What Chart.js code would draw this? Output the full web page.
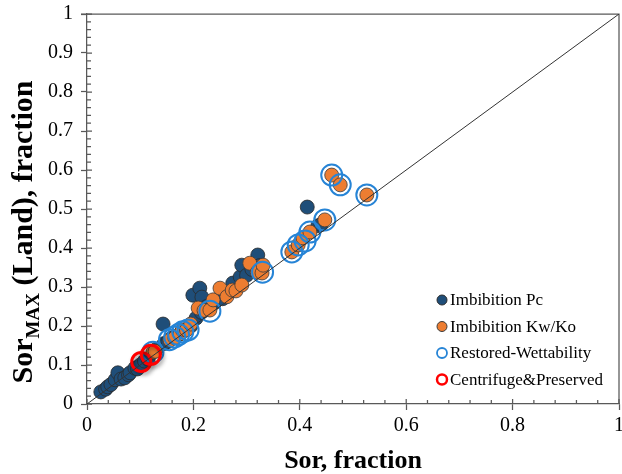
<!DOCTYPE html>
<html>
<head>
<meta charset="utf-8">
<script src="https://cdn.jsdelivr.net/npm/chart.js@4.4.1/dist/chart.umd.min.js"></script>
<style>
  html, body { margin: 0; padding: 0; background: #fff; }
  #wrap { width: 622px; height: 474px; }
</style>
</head>
<body>
<div id="wrap"><canvas id="sor-chart" width="622" height="474"></canvas></div>
<script>
/* Sor vs SorMAX (Land) cross-plot */

const SERIES_LABELS = ["Imbibition Pc", "Imbibition Kw/Ko", "Restored-Wettability", "Centrifuge&Preserved"];

// Imbibition Pc  [Sor, SorMAX]
const IMB_PC = [
    [0.026, 0.031], [0.035, 0.038], [0.039, 0.044], [0.045, 0.050], [0.053, 0.062],
    [0.058, 0.080], [0.064, 0.064], [0.071, 0.067], [0.078, 0.075], [0.081, 0.080],
    [0.090, 0.092], [0.095, 0.090], [0.100, 0.100], [0.108, 0.110], [0.115, 0.115],
    [0.130, 0.140], [0.143, 0.205], [0.145, 0.155], [0.152, 0.160], [0.160, 0.170],
    [0.175, 0.180], [0.185, 0.190], [0.195, 0.200], [0.199, 0.279], [0.212, 0.297],
    [0.216, 0.274], [0.205, 0.220], [0.215, 0.235], [0.225, 0.250], [0.240, 0.260],
    [0.255, 0.270], [0.265, 0.285], [0.274, 0.310], [0.288, 0.326], [0.291, 0.356],
    [0.300, 0.330], [0.310, 0.345], [0.321, 0.382], [0.325, 0.355], [0.414, 0.505],
    [0.434, 0.457], [0.440, 0.460]
];

// Imbibition Kw/Ko
const IMB_KWKO = [
    [0.124, 0.133], [0.128, 0.135], [0.156, 0.164], [0.165, 0.170], [0.175, 0.180],
    [0.179, 0.190], [0.187, 0.190], [0.195, 0.205], [0.209, 0.246], [0.220, 0.240],
    [0.231, 0.241], [0.237, 0.267], [0.250, 0.297], [0.263, 0.275], [0.273, 0.292],
    [0.280, 0.290], [0.291, 0.305], [0.306, 0.361], [0.320, 0.338], [0.329, 0.336],
    [0.331, 0.356], [0.385, 0.390], [0.397, 0.408], [0.406, 0.426], [0.419, 0.441],
    [0.447, 0.472], [0.460, 0.587], [0.476, 0.562], [0.526, 0.536]
];

// Restored-wettability samples (open rings)
const RESTORED = [
    [0.124, 0.133], [0.155, 0.165], [0.165, 0.172], [0.172, 0.178], [0.180, 0.185],
    [0.190, 0.190], [0.231, 0.238], [0.330, 0.338], [0.385, 0.390], [0.397, 0.408],
    [0.410, 0.418], [0.419, 0.441], [0.447, 0.472], [0.460, 0.587], [0.476, 0.562],
    [0.526, 0.536]
];

// Centrifuge & preserved samples (red rings)
const CENTRIFUGE = [[0.102, 0.108], [0.120, 0.126]];

// 1:1 reference line
const UNIT_LINE = [[0, 0], [1, 1]];

const X_TICKS = [0, 0.2, 0.4, 0.6, 0.8, 1];
const Y_TICKS = [0, 0.1, 0.2, 0.3, 0.4, 0.5, 0.6, 0.7, 0.8, 0.9, 1];

const SERIF = "'Liberation Serif', 'Times New Roman', serif";
const AXIS_GREY = "#595959";
const toXY = arr => arr.map(p => ({ x: p[0], y: p[1] }));
const isMajor = (v, list) => list.some(t => Math.abs(t - v) < 1e-6);

/* ---------- Plugins ---------- */

// top/right frame and the inward tick marks
const framePlugin = {
    id: "frame",
    beforeDatasetsDraw(chart) {
        const { ctx, chartArea: a, scales } = chart;
        ctx.save();
        ctx.strokeStyle = AXIS_GREY;
        ctx.lineWidth = 1.25;
        ctx.beginPath();
        ctx.moveTo(a.left - 6, a.top);
        ctx.lineTo(a.right, a.top);
        ctx.lineTo(a.right, a.bottom);
        ctx.stroke();

        ctx.beginPath();
        scales.x.ticks.forEach((t, i) => {
            const px = scales.x.getPixelForTick(i);
            const len = isMajor(t.value, X_TICKS) ? 5 : 4;
            ctx.moveTo(px, a.bottom);
            ctx.lineTo(px, a.bottom - len);
        });
        scales.y.ticks.forEach((t, i) => {
            const py = scales.y.getPixelForTick(i);
            const len = isMajor(t.value, Y_TICKS) ? 5 : 4;
            ctx.moveTo(a.left, py);
            ctx.lineTo(a.left + len, py);
        });
        ctx.stroke();
        ctx.restore();
    }
};

// drop shadow under the red rings
const shadowPlugin = {
    id: "ringShadow",
    beforeDatasetDraw(chart, args) {
        if (args.meta.label !== SERIES_LABELS[3]) return;
        const ctx = chart.ctx;
        ctx.save();
        ctx.shadowColor = "rgba(0,0,0,0.45)";
        ctx.shadowBlur = 4;
        ctx.shadowOffsetX = 2;
        ctx.shadowOffsetY = 2;
    },
    afterDatasetDraw(chart, args) {
        if (args.meta.label !== SERIES_LABELS[3]) return;
        chart.ctx.restore();
    }
};

// axis titles (y title has a subscript) and the in-plot legend
const annotatePlugin = {
    id: "annotate",
    afterDraw(chart) {
        const { ctx, chartArea: a } = chart;
        ctx.save();
        ctx.fillStyle = "#000";
        ctx.textBaseline = "alphabetic";

        // x title
        ctx.font = `bold 26px ${SERIF}`;
        ctx.textAlign = "center";
        ctx.fillText("Sor, fraction", (a.left + a.right) / 2, 468);

        // y title
        const big = `bold 30px ${SERIF}`;
        const small = `bold 19px ${SERIF}`;
        const parts = [["Sor", big, 0], ["MAX", small, 7], [" (Land), fraction", big, 0]];
        let total = 0;
        parts.forEach(p => { ctx.font = p[1]; total += ctx.measureText(p[0]).width; });
        ctx.translate(32, 232);
        ctx.rotate(-Math.PI / 2);
        ctx.textAlign = "left";
        let x = -total / 2;
        parts.forEach(p => {
            ctx.font = p[1];
            ctx.fillText(p[0], x, p[2]);
            x += ctx.measureText(p[0]).width;
        });
        ctx.restore();

        // legend
        ctx.save();
        ctx.font = `17px ${SERIF}`;
        ctx.textBaseline = "middle";
        ctx.textAlign = "left";
        chart.data.datasets.forEach(ds => {
            const row = SERIES_LABELS.indexOf(ds.label);
            if (row < 0) return;
            const cy = 300 + row * 26.5;
            const cx = 442;
            ctx.beginPath();
            ctx.arc(cx, cy, 5, 0, Math.PI * 2);
            if (ds.pointBackgroundColor !== "transparent") {
                ctx.fillStyle = ds.pointBackgroundColor;
                ctx.fill();
                ctx.lineWidth = 1;
            } else {
                ctx.lineWidth = ds.pointBorderWidth > 2 ? 2.5 : 1.8;
            }
            ctx.strokeStyle = ds.pointBorderColor;
            ctx.stroke();
            ctx.fillStyle = "#000";
            ctx.fillText(ds.label, 450, cy + 1);
        });
        ctx.restore();
    }
};

/* ---------- Chart ---------- */

const ctx = document.getElementById("sor-chart");

new Chart(ctx, {
    type: "scatter",
    data: {
        datasets: [
            {
                type: "line",
                label: "1:1",
                data: toXY(UNIT_LINE),
                borderColor: "#333",
                borderWidth: 1,
                pointRadius: 0,
                order: 0,
            },
            {
                label: SERIES_LABELS[0],
                data: toXY(IMB_PC),
                pointRadius: 7,
                pointBackgroundColor: "#1f4e79",
                pointBorderColor: "#2b2b2b",
                pointBorderWidth: 0.8,
                order: 4,
            },
            {
                label: SERIES_LABELS[1],
                data: toXY(IMB_KWKO),
                pointRadius: 7,
                pointBackgroundColor: "#ed7d31",
                pointBorderColor: "#3a3a3a",
                pointBorderWidth: 0.8,
                order: 3,
            },
            {
                label: SERIES_LABELS[2],
                data: toXY(RESTORED),
                pointRadius: 10.5,
                pointBackgroundColor: "transparent",
                pointBorderColor: "#2684d6",
                pointBorderWidth: 2,
                order: 2,
            },
            {
                label: SERIES_LABELS[3],
                data: toXY(CENTRIFUGE),
                pointRadius: 9.5,
                pointBackgroundColor: "transparent",
                pointBorderColor: "#ff0000",
                pointBorderWidth: 3,
                order: 1,
            },
        ]
    },
    options: {
        responsive: false,
        animation: false,
        // no extra room for marker overflow, the plot box is fixed
        layout: { autoPadding: false, padding: { top: 14, right: 3, left: 0, bottom: 0 } },
        plugins: {
            legend: { display: false },
            tooltip: { enabled: false },
        },
        scales: {
            x: {
                type: "linear",
                min: 0,
                max: 1,
                afterFit: s => { s.height = 70; s.paddingLeft = 0; s.paddingRight = 0; },
                border: { display: true, color: AXIS_GREY, width: 1.25 },
                grid: {
                    drawOnChartArea: false,
                    tickLength: 6,
                    tickColor: c => isMajor(c.tick.value, X_TICKS) ? AXIS_GREY : "transparent",
                    tickWidth: 1.25,
                },
                ticks: {
                    stepSize: 0.04,
                    autoSkip: false,
                    maxRotation: 0,
                    padding: 4,
                    color: "#000",
                    font: { family: SERIF, size: 20 },
                    callback: v => isMajor(v, X_TICKS) ? String(+v.toFixed(1)) : "",
                },
            },
            y: {
                type: "linear",
                min: 0,
                max: 1,
                afterFit: s => { s.width = 87; s.paddingTop = 0; s.paddingBottom = 0; },
                border: { display: true, color: AXIS_GREY, width: 1.25 },
                grid: {
                    drawOnChartArea: false,
                    tickLength: 6,
                    tickColor: c => isMajor(c.tick.value, Y_TICKS) ? AXIS_GREY : "transparent",
                    tickWidth: 1.25,
                },
                ticks: {
                    stepSize: 0.02,
                    autoSkip: false,
                    padding: 8,
                    color: "#000",
                    font: { family: SERIF, size: 20 },
                    callback: v => isMajor(v, Y_TICKS) ? String(+v.toFixed(1)) : "",
                },
            },
        },
    },
    plugins: [framePlugin, shadowPlugin, annotatePlugin],
});
</script>
</body>
</html>
